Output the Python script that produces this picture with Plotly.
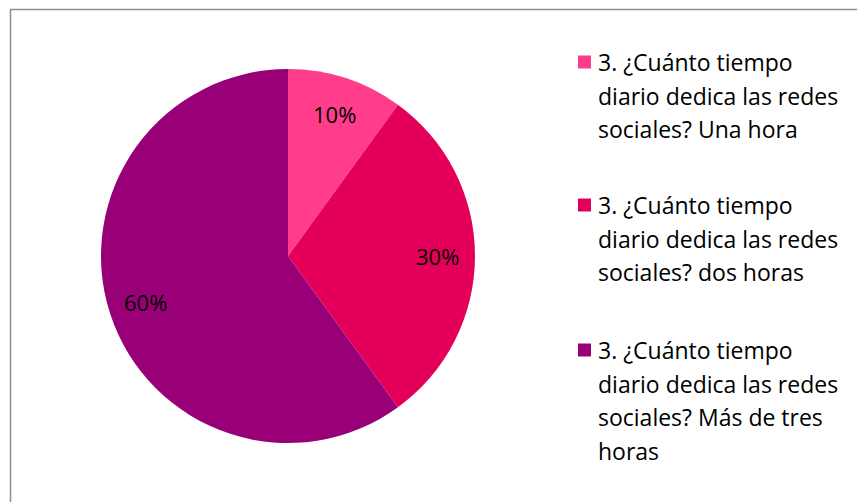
import math
import plotly.graph_objects as go

labels = [
    "3. ¿Cuánto tiempo diario dedica las redes sociales? Una hora",
    "3. ¿Cuánto tiempo diario dedica las redes sociales? dos horas",
    "3. ¿Cuánto tiempo diario dedica las redes sociales? Más de tres horas",
]
legend_lines = [
    ["3. ¿Cuánto tiempo", "diario dedica las redes", "sociales? Una hora"],
    ["3. ¿Cuánto tiempo", "diario dedica las redes", "sociales? dos horas"],
    ["3. ¿Cuánto tiempo", "diario dedica las redes", "sociales? Más de tres", "horas"],
]
values = [10, 30, 60]
colors = ["#FF3D8B", "#E4005A", "#990078"]

W, H = 857, 502
FONT = "Open Sans"
cx, cy, R = 288, 256, 187

fig = go.Figure(go.Pie(
    labels=labels,
    values=values,
    sort=False,
    direction="clockwise",
    rotation=0,
    marker=dict(colors=colors, line=dict(width=0)),
    textinfo="none",
    hoverinfo="label+percent",
    showlegend=False,
    domain=dict(x=[(cx - R) / W, (cx + R) / W], y=[(H - cy - R) / H, (H - cy + R) / H]),
))

annotations = []
shapes = []
# percentage labels positioned at 0.8 R along each slice's mid-angle
total = sum(values)
cum = 0
for v in values:
    mid = (cum + v / 2) / total * 2 * math.pi
    cum += v
    px = cx + 0.8 * R * math.sin(mid)
    py = cy - 0.8 * R * math.cos(mid)
    annotations.append(dict(
        x=px / W, y=1 - py / H, xref="paper", yref="paper",
        text=f"{round(v / total * 100)}%", showarrow=False,
        font=dict(family=FONT, size=22, color="#000000"),
        xanchor="center", yanchor="middle",
    ))

# custom legend
entry_tops = [62, 205, 350]
line_h = 33.5
for lines, col, top in zip(legend_lines, colors, entry_tops):
    shapes.append(dict(
        type="rect", xref="paper", yref="paper",
        x0=578 / W, x1=591 / W, y0=1 - (top + 6.5) / H, y1=1 - (top - 6.5) / H,
        fillcolor=col, line=dict(width=0),
    ))
    for i, t in enumerate(lines):
        yy = top + i * line_h
        annotations.append(dict(
            x=596 / W, y=1 - yy / H, xref="paper", yref="paper",
            text=t, showarrow=False, xanchor="left", yanchor="middle",
            font=dict(family=FONT, size=23, color="#000000"),
        ))

# chart border
shapes.append(dict(
    type="rect", xref="paper", yref="paper",
    x0=10.5 / W, x1=1.05, y0=-0.05, y1=1 - 9.5 / H,
    line=dict(color="#8C8C8C", width=1.5), fillcolor="rgba(0,0,0,0)", layer="below",
))

fig.update_layout(
    width=W, height=H,
    margin=dict(l=0, r=0, t=0, b=0),
    paper_bgcolor="white", plot_bgcolor="white",
    annotations=annotations, shapes=shapes,
    font=dict(family=FONT),
)
fig.write_html(
    "out.html",
    config={"displayModeBar": False},
    post_script="document.body.style.margin='0';document.body.style.overflow='hidden';",
)
